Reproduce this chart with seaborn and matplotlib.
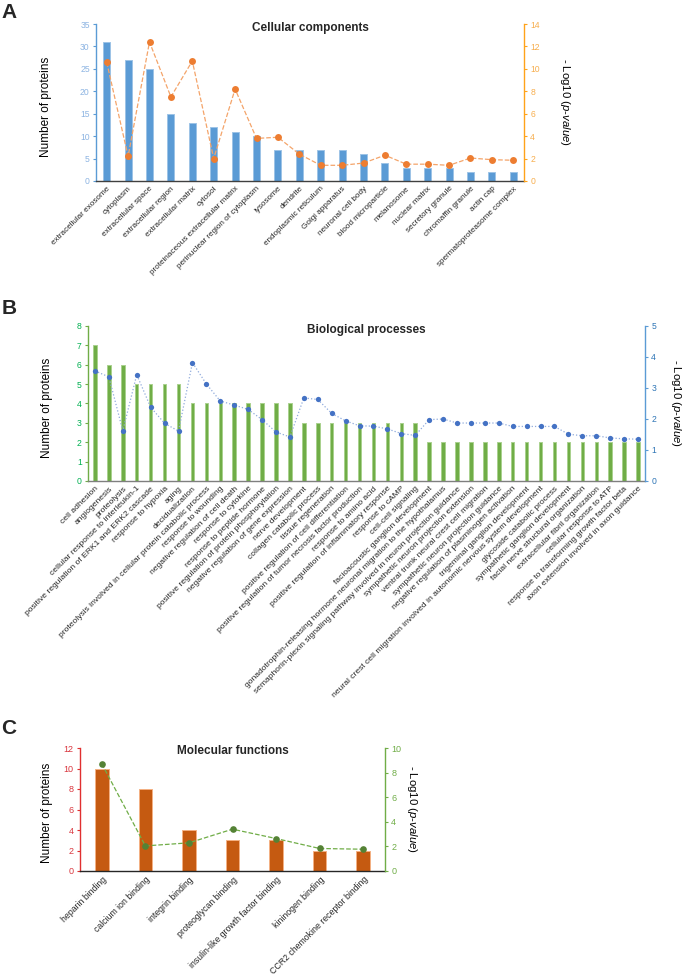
import matplotlib
matplotlib.use("Agg")
import matplotlib.pyplot as plt
import seaborn as sns
import numpy as np

# ---- data ----
cc_terms = ["extracellular exosome", "cytoplasm", "extracellular space", "extracellular region",
            "extracellular matrix", "cytosol", "proteinaceous extracellular matrix",
            "perinuclear region of cytoplasm", "lysosome", "dendrite", "endoplasmic reticulum",
            "Golgi apparatus", "neuronal cell body", "blood microparticle", "melanosome",
            "nuclear matrix", "secretory granule", "chromaffin granule", "actin cap",
            "spermatoproteasome complex"]
cc_counts = [31, 27, 25, 15, 13, 12, 11, 10, 7, 7, 7, 7, 6, 4, 3, 3, 3, 2, 2, 2]
cc_logp = [10.6, 2.2, 12.4, 7.5, 10.7, 2.0, 8.2, 3.8, 3.9, 2.4, 1.4, 1.4, 1.6, 2.3,
           1.5, 1.5, 1.4, 2.05, 1.9, 1.85]

bp_terms = ["cell adhesion", "angiogenesis", "proteolysis", "cellular response to interleukin-1",
            "positive regulation of ERK1 and ERK2 cascade", "response to hypoxia", "aging",
            "decidualization", "proteolysis involved in cellular protein catabolic process",
            "response to wounding", "negative regulation of cell death", "response to cytokine",
            "response to peptide hormone", "positive regulation of protein phosphorylation",
            "negative regulation of gene expression", "nerve development",
            "collagen catabolic process", "tissue regeneration",
            "positive regulation of cell differentiation",
            "positive regulation of tumor necrosis factor production", "response to amino acid",
            "positive regulation of inflammatory response", "response to cAMP",
            "cell-cell signaling", "facioacoustic ganglion development",
            "gonadotrophin-releasing hormone neuronal migration to the hypothalamus",
            "semaphorin-plexin signaling pathway involved in neuron projection guidance",
            "sympathetic neuron projection extension", "ventral trunk neural crest cell migration",
            "sympathetic neuron projection guidance", "negative regulation of plasminogen activation",
            "trigeminal ganglion development",
            "neural crest cell migration involved in autonomic nervous system development",
            "glycoside catabolic process", "sympathetic ganglion development",
            "facial nerve structural organization", "extracellular fibril organization",
            "cellular response to ATP", "response to transforming growth factor beta",
            "axon extension involved in axon guidance"]
bp_counts = [7, 6, 6, 5, 5, 5, 5, 4, 4, 4, 4, 4, 4, 4, 4, 3, 3, 3, 3, 3, 3, 3, 3, 3,
             2, 2, 2, 2, 2, 2, 2, 2, 2, 2, 2, 2, 2, 2, 2, 2]
bp_logp = [3.55, 3.36, 1.62, 3.43, 2.38, 1.86, 1.61, 3.82, 3.13, 2.58, 2.45, 2.31, 1.98,
           1.58, 1.42, 2.68, 2.63, 2.18, 1.94, 1.78, 1.77, 1.68, 1.53, 1.47, 1.98, 2.0,
           1.87, 1.87, 1.87, 1.87, 1.76, 1.76, 1.76, 1.76, 1.51, 1.46, 1.46, 1.39, 1.36, 1.35]

mf_terms = ["heparin binding", "calcium ion binding", "integrin binding", "proteoglycan binding",
            "insulin-like growth factor binding", "kininogen binding",
            "CCR2 chemokine receptor binding"]
mf_counts = [10, 8, 4, 3, 3, 2, 2]
mf_logp = [8.72, 2.04, 2.29, 3.4, 2.64, 1.83, 1.77]

sns.set_style("white")
plt.rcParams["font.family"] = ["Liberation Sans", "DejaVu Sans"]
plt.rcParams["mathtext.fontset"] = "custom"
plt.rcParams["mathtext.it"] = "Liberation Sans:italic"
plt.rcParams["mathtext.rm"] = "Liberation Sans"

W, H = 685, 977
fig = plt.figure(figsize=(W / 100, H / 100), dpi=100)

RIGHT_LABEL = r"- Log10 ($\it{p}$-$\it{value}$)"


def panel(rect, terms, counts, logp, title, bar_col, bar_edge, line_col, mark_col, ls,
          msize, width, left_col, left_lab, right_col, right_lab, bottom_col,
          ylim1, step1, ylim2, step2, xfs, yfs, lab_x, rlab_x):
    x0, y0, x1, y1 = rect
    ax = fig.add_axes([x0 / W, 1 - y1 / H, (x1 - x0) / W, (y1 - y0) / H])
    sns.barplot(x=terms, y=counts, color=bar_col, saturation=1, width=width,
                edgecolor=bar_edge, linewidth=0.7, ax=ax)
    ax2 = ax.twinx()
    sns.lineplot(x=np.arange(len(terms)), y=logp, ax=ax2, color=line_col, linestyle=ls,
                 linewidth=0.9, marker="o", markersize=msize, markerfacecolor=mark_col,
                 markeredgecolor=mark_col, markeredgewidth=0)
    n = len(terms)
    ax.set_xlim(-0.5, n - 0.5)
    ax.set_ylim(0, ylim1)
    ax2.set_ylim(0, ylim2)
    ax.set_yticks(np.arange(0, ylim1 + 0.01, step1))
    ax2.set_yticks(np.arange(0, ylim2 + 0.01, step2))
    ax.set_xticks(range(n))
    ax.set_xticklabels(terms, rotation=45, ha="right", rotation_mode="anchor",
                       fontsize=xfs, color="#262626")
    ax.tick_params(axis="x", length=0, pad=3)
    ax.tick_params(axis="y", colors=left_lab, labelsize=yfs, length=2.5, width=0.8,
                   direction="out", pad=2, left=True)
    ax.yaxis.set_tick_params(color=left_col)
    ax2.tick_params(axis="y", colors=right_lab, labelsize=yfs, length=2.5, width=0.8,
                    direction="out", pad=2)
    ax2.yaxis.set_tick_params(color=right_col)
    for s in ["top", "right"]:
        ax.spines[s].set_visible(False)
    for s in ["top", "left", "bottom"]:
        ax2.spines[s].set_visible(False)
    ax.spines["left"].set_color(left_col)
    ax.spines["left"].set_linewidth(1.0)
    ax.spines["bottom"].set_color(bottom_col)
    ax.spines["bottom"].set_linewidth(1.0)
    ax2.spines["right"].set_color(right_col)
    ax2.spines["right"].set_linewidth(1.0)
    ax.set_xlabel("")
    ax2.set_xlabel("")
    ax.set_ylabel("Number of proteins", fontsize=8.5, color="black")
    ax.yaxis.set_label_coords(lab_x, 0.47)
    ax2.set_ylabel(RIGHT_LABEL, fontsize=8.2, rotation=-90, va="center", color="black")
    ax2.yaxis.set_label_coords(rlab_x, 0.5)
    ax.text(0.5, 0.975, title, transform=ax.transAxes, ha="center", va="center",
            fontsize=8.5, fontweight="bold")
    return ax, ax2


panel((96, 24, 524, 181), cc_terms, cc_counts, cc_logp, "Cellular components",
      "#5B9BD5", "#9DC3E6", "#F4A46A", "#ED7D31", "--", 5.0, 0.32,
      "#5B9BD5", "#8DB4E2", "#FFA31A", "#F7AE4E", "#404040",
      35, 5, 14, 2, 5.9, 6.2, -0.103, 1.096)

panel((88, 326, 645, 481), bp_terms, bp_counts, bp_logp, "Biological processes",
      "#70AD47", "#A9D18E", "#8FAADC", "#4472C4", ":", 3.8, 0.25,
      "#70AD47", "#00B050", "#5B9BD5", "#2E75B6", "#7F7F7F",
      8, 1, 5, 1, 6.1, 6.2, -0.063, 1.056)

panel((80, 748, 385, 871), mf_terms, mf_counts, mf_logp, "Molecular functions",
      "#C55A11", "#F4B183", "#70AD47", "#548235", "--", 4.8, 0.31,
      "#E03030", "#D9363E", "#70AD47", "#70AD47", "#262626",
      12, 2, 10, 2, 6.3, 6.5, -0.087, 1.089)

for letter, (px, py) in zip("ABC", [(9, 12), (9, 308), (9, 728)]):
    fig.text(px / W, 1 - py / H, letter, fontsize=15, fontweight="bold",
             ha="center", va="center")

fig.savefig("out.png", dpi=100)
